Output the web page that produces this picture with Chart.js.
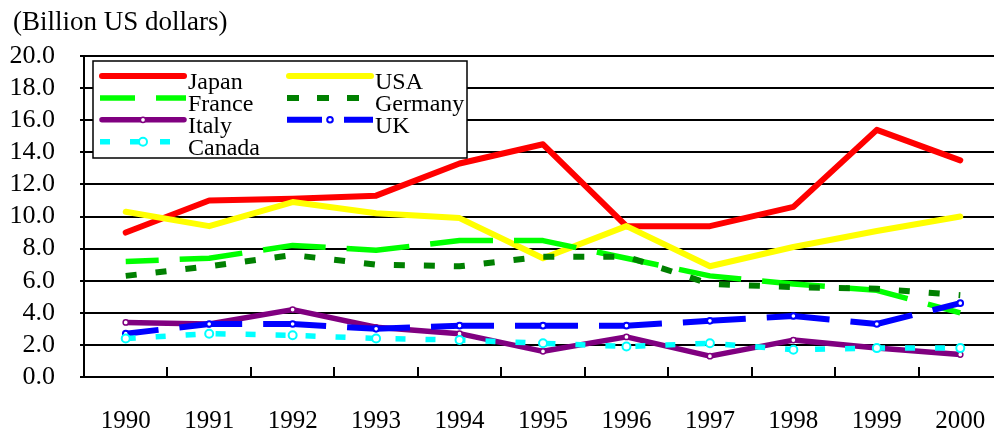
<!DOCTYPE html>
<html><head><meta charset="utf-8">
<script src="https://cdn.jsdelivr.net/npm/chart.js@4/dist/chart.umd.min.js"></script>
<style>
html,body{margin:0;padding:0;background:#fff;overflow:hidden;width:994px;height:430px;position:relative;}
#wrap{position:absolute;left:0;top:0;width:1008px;height:430px;}
#title{position:absolute;left:13px;top:8px;font-family:"Liberation Serif";font-size:27px;line-height:27px;color:#000;white-space:nowrap;}
</style></head><body>
<div id="wrap"><canvas id="c" width="1008" height="430"></canvas></div>
<div id="title">(Billion US dollars)</div>
<script>
const years = ['1990','1991','1992','1993','1994','1995','1996','1997','1998','1999','2000'];
const japan   = [9.0, 11.0, 11.1, 11.3, 13.3, 14.5, 9.4, 9.4, 10.6, 15.4, 13.5];
const usa     = [10.3, 9.4, 10.9, 10.2, 9.9, 7.4, 9.4, 6.9, 8.1, 9.1, 10.0];
const france  = [7.2, 7.4, 8.2, 7.9, 8.5, 8.5, 7.4, 6.3, 5.8, 5.4, 4.0];
const germany = [6.3, 6.9, 7.6, 7.0, 6.9, 7.5, 7.5, 5.8, 5.6, 5.5, 5.1];
const italy   = [3.4, 3.3, 4.2, 3.1, 2.7, 1.6, 2.5, 1.3, 2.3, 1.8, 1.4];
const uk      = [2.7, 3.3, 3.3, 3.0, 3.2, 3.2, 3.2, 3.5, 3.8, 3.3, 4.6];
const canada  = [2.4, 2.7, 2.6, 2.4, 2.3, 2.1, 1.9, 2.1, 1.7, 1.8, 1.8];
const seriesNames = ['Japan','USA','France','Germany','Italy','UK','Canada'];
const yTicks = {min: 0, max: 20, step: 2};

const FONT = '"Liberation Serif", "Times New Roman", serif';

function ds(label, data, color, opt) {
  return Object.assign({
    label, data, borderColor: color, backgroundColor: '#fff',
    borderWidth: 5.5, tension: 0, fill: false,
    pointRadius: 0, pointHoverRadius: 0,
    borderCapStyle: 'butt', borderJoinStyle: 'round'
  }, opt);
}

const datasets = [
  ds(seriesNames[0], japan, '#ff0000', {borderWidth:6, borderCapStyle:'round', order: 7}),
  ds(seriesNames[1], usa, '#ffff00', {borderWidth:6, borderCapStyle:'round', order: 6}),
  ds(seriesNames[2], france, '#00ff00', {borderDash:[63,21], borderDashOffset:30, legendDash:[35,21], order: 5}),
  ds(seriesNames[3], germany, '#008000', {borderWidth:6, borderDash:[11,19], legendDash:[12,18], order: 4}),
  ds(seriesNames[4], italy, '#800080', {borderCapStyle:'round', pointRadius:2.6, pointBorderWidth:1.5, pointBackgroundColor:'#fff', pointBorderColor:'#800080', order: 3}),
  ds(seriesNames[5], uk, '#0000ff', {borderWidth:6, borderDash:[63,21], borderDashOffset:30, legendDash:[35,22], pointRadius:2.8, pointBorderWidth:2, pointBackgroundColor:'#fff', pointBorderColor:'#0000ff', order: 2}),
  ds(seriesNames[6], canada, '#00ffff', {borderDash:[10,20], legendDash:[10,20], pointRadius:4, pointBorderWidth:2, pointBackgroundColor:'#fff', pointBorderColor:'#00ffff', order: 1})
];

const innerTicks = {
  id: 'innerTicks',
  afterDraw(chart) {
    const x = chart.scales.x, a = chart.chartArea, ctx = chart.ctx;
    ctx.save();
    ctx.strokeStyle = '#000'; ctx.lineWidth = 2;
    for (let i = 1; i < years.length; i++) {
      const px = Math.round((x.getPixelForTick(i - 1) + x.getPixelForTick(i)) / 2);
      ctx.beginPath(); ctx.moveTo(px, a.bottom); ctx.lineTo(px, a.bottom - 10); ctx.stroke();
    }
    ctx.restore();
  }
};

const boxLegend = {
  id: 'boxLegend',
  afterDatasetsDraw(chart) {
    const ctx = chart.ctx;
    const cols = [100, 287], sampleW = 86, row0 = 76, rowH = 21.9;
    ctx.save();
    ctx.fillStyle = '#fff';
    ctx.fillRect(93, 61, 374, 97);
    ctx.strokeStyle = '#000'; ctx.lineWidth = 1.5;
    ctx.strokeRect(93, 61, 374, 97);
    chart.data.datasets.forEach((d, i) => {
      const x0 = cols[i % 2], y = row0 + Math.floor(i / 2) * rowH;
      ctx.save();
      ctx.strokeStyle = d.borderColor; ctx.lineWidth = d.borderWidth;
      ctx.lineCap = d.borderDash ? 'butt' : 'round';
      ctx.setLineDash(d.legendDash || []);
      ctx.beginPath(); ctx.moveTo(x0 + (d.borderDash ? 0 : 2), y); ctx.lineTo(x0 + sampleW - (d.borderDash ? 0 : 2), y); ctx.stroke();
      ctx.restore();
      if (d.pointRadius > 0) {
        ctx.save();
        ctx.setLineDash([]);
        ctx.beginPath(); ctx.arc(x0 + sampleW / 2, y, d.pointRadius, 0, Math.PI * 2);
        ctx.fillStyle = '#fff'; ctx.fill();
        ctx.lineWidth = d.pointBorderWidth; ctx.strokeStyle = d.pointBorderColor; ctx.stroke();
        ctx.restore();
      }
      ctx.fillStyle = '#000';
      ctx.font = '24px ' + FONT;
      ctx.textBaseline = 'alphabetic'; ctx.textAlign = 'left';
      ctx.fillText(d.label, x0 + sampleW + 2, y + 13);
    });
    ctx.restore();
  }
};

new Chart(document.getElementById('c'), {
  type: 'line',
  data: { labels: years, datasets },
  options: {
    responsive: false, animation: false, devicePixelRatio: 1,
    layout: { padding: { top: 56, left: 0, right: 0, bottom: 0 } },
    plugins: { legend: { display: false }, title: { display: false }, tooltip: { enabled: false } },
    scales: {
      x: {
        type: 'category', offset: true,
        grid: { display: true, offset: true, drawOnChartArea: false, drawTicks: true, tickLength: 29, color: 'rgba(0,0,0,0)' },
        border: { display: true, color: '#000', width: 2 },
        ticks: { color: '#000', font: { family: FONT, size: 25 }, padding: 0, maxRotation: 0, autoSkip: false },
        afterFit(s) { s.height = 53; }
      },
      y: {
        min: yTicks.min, max: yTicks.max,
        grid: { color: '#000', lineWidth: 2, tickLength: 4 },
        border: { display: true, color: '#000', width: 2 },
        ticks: { stepSize: yTicks.step, autoSkip: false, color: '#000', font: { family: FONT, size: 26 }, padding: 25,
                 callback: v => Number(v).toFixed(1) },
        afterFit(s) { s.width = 84; }
      }
    }
  },
  plugins: [boxLegend, innerTicks]
});
</script>
</body></html>
